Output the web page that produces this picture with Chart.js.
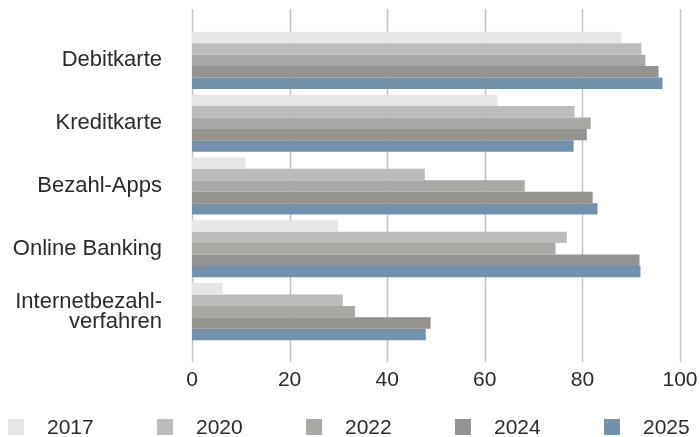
<!DOCTYPE html>
<html>
<head>
<meta charset="utf-8">
<script src="https://cdn.jsdelivr.net/npm/chart.js@4"></script>
<style>
  html, body { margin: 0; padding: 0; background: #fff; }
  #wrap { width: 700px; height: 437px; position: relative; }
</style>
</head>
<body>
<div id="wrap"><canvas id="chart"></canvas></div>
<script>
/* ---------- Data ---------- */
const categories = ['Debitkarte', 'Kreditkarte', 'Bezahl-Apps', 'Online Banking', ['Internetbezahl-', 'verfahren']];
const years      = ['2017', '2020', '2022', '2024', '2025'];
const colors     = ['#e6e6e6', '#bcbcba', '#a8a8a4', '#94938f', '#7191af'];

const v2017 = [88.0, 62.6, 11.0, 29.9, 6.3];
const v2020 = [92.1, 78.4, 47.7, 76.8, 30.9];
const v2022 = [92.9, 81.7, 68.2, 74.5, 33.4];
const v2024 = [95.6, 80.9, 82.1, 91.7, 48.9];
const v2025 = [96.4, 78.2, 83.1, 91.9, 47.9];

const xTicks = [0, 20, 40, 60, 80, 100];

const FONT = "'Liberation Sans', Arial, sans-serif";
const TEXT = '#2b2b2b';

/* gridlines that run past the plot area, like the original */
const gridPlugin = {
  id: 'longGrid',
  beforeDatasetsDraw(chart) {
    const { ctx, chartArea, scales } = chart;
    ctx.save();
    ctx.strokeStyle = '#c4c4c4';
    ctx.lineWidth = 1.5;
    xTicks.forEach(t => {
      const x = Math.round(scales.x.getPixelForValue(t)) + 0.5;
      ctx.beginPath();
      ctx.moveTo(x, chartArea.top - 20);
      ctx.lineTo(x, chartArea.bottom + 19);
      ctx.stroke();
    });
    ctx.restore();
  }
};

/* legend row spread across the full width */
const legendPlugin = {
  id: 'wideLegend',
  afterDraw(chart) {
    const { ctx } = chart;
    ctx.save();
    ctx.font = `21px ${FONT}`;
    ctx.textBaseline = 'middle';
    chart.data.datasets.forEach((ds, i) => {
      const x = 8 + i * 149;
      ctx.fillStyle = ds.backgroundColor;
      ctx.fillRect(x, 419, 16, 16);
      ctx.fillStyle = TEXT;
      ctx.fillText(ds.label, x + 39, 428);
    });
    ctx.restore();
  }
};

const series = [v2017, v2020, v2022, v2024, v2025];

new Chart(document.getElementById('chart'), {
  type: 'bar',
  data: {
    labels: categories,
    datasets: years.map((y, i) => ({
      label: y,
      data: series[i],
      backgroundColor: colors[i],
      borderWidth: 0,
      barPercentage: 1,
      categoryPercentage: 0.91
    }))
  },
  options: {
    indexAxis: 'y',
    responsive: true,
    maintainAspectRatio: false,
    animation: false,
    layout: { padding: { top: 29, left: 0, right: 20, bottom: 44 } },
    plugins: { legend: { display: false }, tooltip: { enabled: false } },
    scales: {
      x: {
        min: 0, max: 100,
        afterBuildTicks: (s) => { s.ticks = xTicks.map(v => ({ value: v })); },
        afterFit: (s) => { s.height = 50; s.paddingLeft = 0; s.paddingRight = 0; },
        grid: { display: false, drawTicks: false },
        border: { display: false },
        ticks: { font: { family: FONT, size: 21 }, color: TEXT, padding: 25 }
      },
      y: {
        afterFit: (s) => { s.width = 192; s.paddingTop = 0; s.paddingBottom = 0; },
        grid: { display: false, drawTicks: false },
        border: { display: false },
        ticks: { font: { family: FONT, size: 22, lineHeight: 0.92 }, color: TEXT, padding: 30 }
      }
    }
  },
  plugins: [gridPlugin, legendPlugin]
});
</script>
</body>
</html>
